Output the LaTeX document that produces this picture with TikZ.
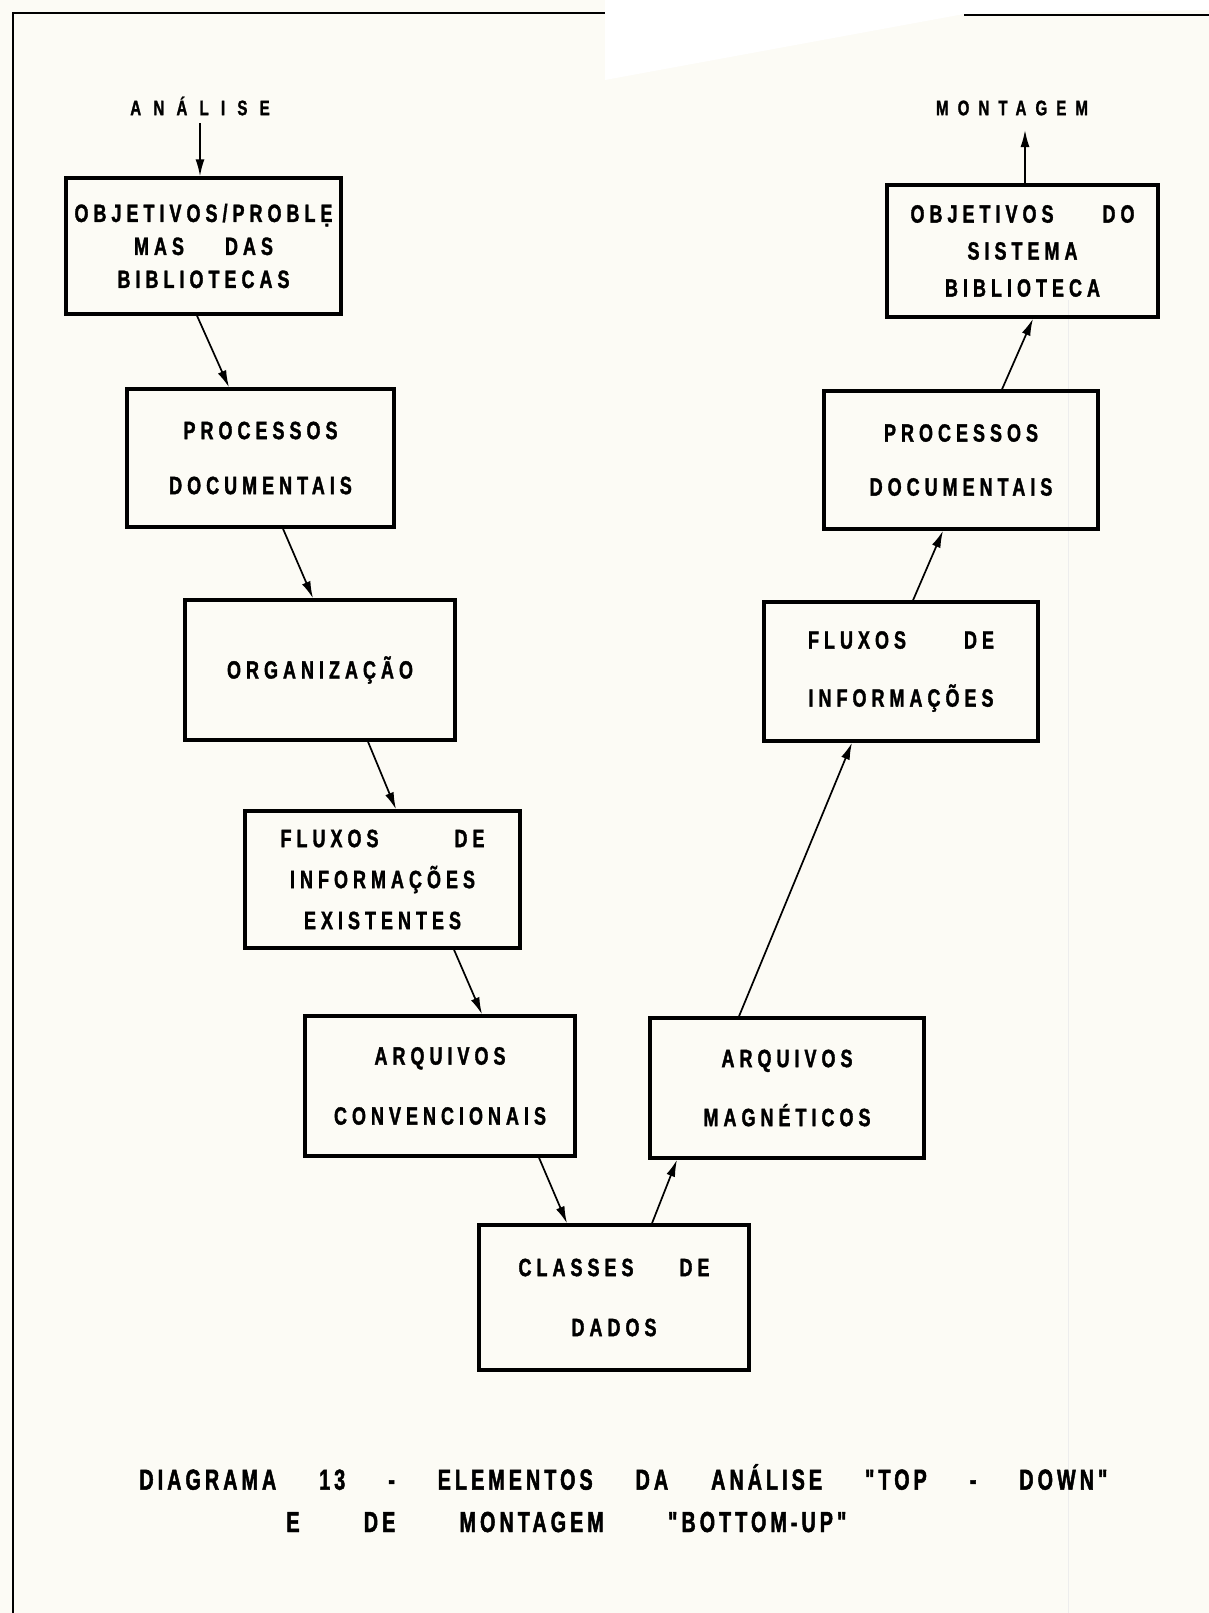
\documentclass[tikz,border=0pt]{standalone}
\usepackage{fontspec}
\setmainfont{Liberation Sans}
\newfontfamily\letfont{Liberation Sans}[FakeStretch=0.72,LetterSpace=20,BoldFeatures={FakeBold=1.4}]
\newfontfamily\capfont{Liberation Sans}[FakeStretch=0.68,LetterSpace=14,BoldFeatures={FakeBold=1.6}]
\newfontfamily\endfont{Liberation Sans}[FakeStretch=0.72,BoldFeatures={FakeBold=1.2}]
\usetikzlibrary{arrows.meta}
\definecolor{paper}{RGB}{252,251,245}
\newcommand{\spread}[2]{\makebox[#1][s]{#2}}

\begin{document}
\begin{tikzpicture}[x=0.5pt,y=-0.5pt]
\tikzset{
  procbox/.style={draw,line width=1.7pt,minimum width=135pt,minimum height=69pt,inner sep=0pt,align=center,
    font=\letfont\bfseries\fontsize{12.5}{#1}\selectfont},
  procbox/.default=20pt,
  flow/.style={-{Latex[length=8.5pt,width=4.5pt]},line width=0.85pt},
  endtext/.style={inner sep=2pt,font=\endfont\bfseries\addfontfeature{LetterSpace=#1}\fontsize{10.5}{11}\selectfont},
  captext/.style={inner sep=0pt,anchor=west,font=\capfont\bfseries\fontsize{14.5}{16}\selectfont}
}
% folha
\fill[paper] (0,0) rectangle (1209,1613);
\fill[white] (605,0) -- (605,80) -- (964,14) -- (1209,10) -- (1209,0) -- cycle;
\useasboundingbox (0,0) rectangle (1209,1613);
\draw[line width=1.3pt] (12,13) -- (605,13);
\draw[line width=1.3pt] (964,15) -- (1209,15);
\draw[line width=0.9pt] (13,13) -- (13,1613);
\draw[black!7] (1068,300) -- (1068,1613);

% analise (descendo)
\node[endtext=58] (t_ana) at (200,106) {ANÁLISE};
\node[procbox=16.5pt,minimum width=137.5pt,minimum height=68pt] (b_obj) at (203.5,246)
  {OBJETIVOS/PROBLẸ\\\spread{69.5pt}{MAS DAS}\\BIBLIOTECAS};
\node[procbox=27.5pt,minimum width=133.5pt] (b_proc) at (260.5,458) {PROCESSOS\\DOCUMENTAIS};
\node[procbox,minimum height=70pt] (b_org) at (320,670) {ORGANIZAÇÃO};
\node[procbox=20.5pt,minimum width=137.5pt,minimum height=68.5pt] (b_flx) at (382.5,879.5)
  {\spread{102pt}{FLUXOS DE}\\INFORMAÇÕES\\EXISTENTES};
\node[procbox=30pt,minimum height=70pt] (b_conv) at (440,1086) {ARQUIVOS\\CONVENCIONAIS};
\node[procbox=30pt,minimum height=72.5pt] (b_cls) at (614,1297.5) {\spread{95.5pt}{CLASSES DE}\\DADOS};

% montagem (subindo)
\node[procbox=29.5pt,minimum width=137pt,minimum height=70pt] (b_mag) at (787,1088) {ARQUIVOS\\MAGNÉTICOS};
\node[procbox=29pt,minimum width=137pt,minimum height=69.5pt] (b_flxr) at (901,671.5)
  {\spread{93pt}{FLUXOS DE}\\INFORMAÇÕES};
\node[procbox=27pt,minimum width=137pt] (b_procr) at (961,460) {PROCESSOS\\DOCUMENTAIS};
\node[procbox=18.5pt,minimum width=135.5pt,minimum height=66pt] (b_sis) at (1022.5,251)
  {\spread{112pt}{OBJETIVOS DO}\\SISTEMA\\BIBLIOTECA};
\node[endtext=43] (t_mont) at (1012,108) {MONTAGEM};

\coordinate (a_beg) at (200,123);
\coordinate (m_end) at (1025,130);
\draw[flow] (a_beg) -- (a_beg |- b_obj.north);
\draw[flow] ([xshift=-3.25pt]b_obj.south) -- ([xshift=-15.75pt]b_proc.north);
\draw[flow] ([xshift=11.25pt]b_proc.south) -- ([xshift=-3.5pt]b_org.north);
\draw[flow] ([xshift=24pt]b_org.south) -- ([xshift=6.75pt]b_flx.north);
\draw[flow] ([xshift=35.75pt]b_flx.south) -- ([xshift=21pt]b_conv.north);
\draw[flow] ([xshift=49.5pt]b_conv.south) -- ([xshift=-23.5pt]b_cls.north);
\draw[flow] ([xshift=19pt]b_cls.north) -- ([xshift=-55pt]b_mag.south);
\draw[flow] ([xshift=-24pt]b_mag.north) -- ([xshift=-24.5pt]b_flxr.south);
\draw[flow] ([xshift=6pt]b_flxr.north) -- ([xshift=-9pt]b_procr.south);
\draw[flow] ([xshift=20.5pt]b_procr.north) -- ([xshift=5.25pt]b_sis.south);
\draw[flow] ([xshift=1.25pt]b_sis.north) -- (m_end);

% legenda
\node[captext] (cap1) at (139,1477) {\spread{484pt}{DIAGRAMA 13 - ELEMENTOS DA ANÁLISE "TOP - DOWN"}};
\node[captext] (cap2) at (286,1522) {\spread{280pt}{E DE MONTAGEM "BOTTOM-UP"}};
\end{tikzpicture}
\end{document}
